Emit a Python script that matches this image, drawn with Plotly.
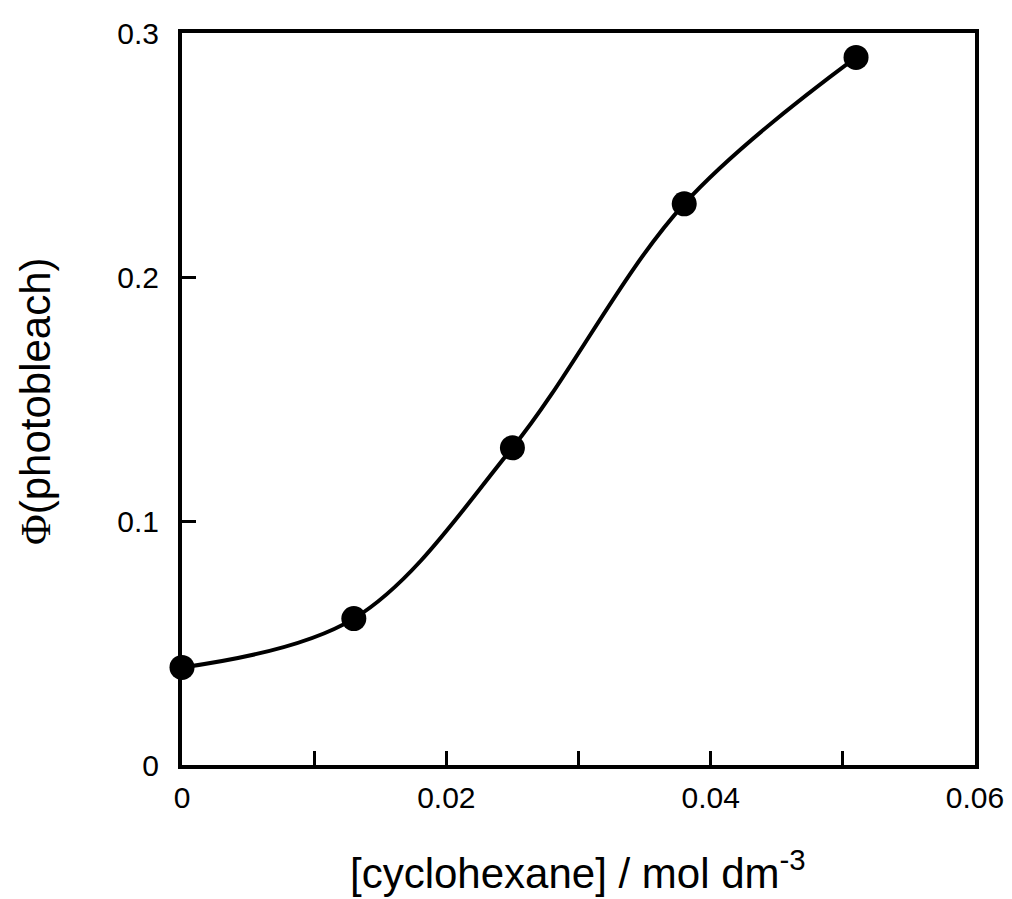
import plotly.graph_objects as go

conc = [0.0, 0.013, 0.025, 0.038, 0.051]
phi = [0.04, 0.06, 0.13, 0.23, 0.29]

x_tickvals = [0, 0.02, 0.04, 0.06]
x_ticktext = ["0", "0.02", "0.04", "0.06"]
y_tickvals = [0, 0.1, 0.2, 0.3]
y_ticktext = ["0", "0.1", "0.2", "0.3"]

x_title = "[cyclohexane] / mol dm<sup>-3</sup>"
y_title = "<span style='font-family:Liberation Serif'>Φ</span>(photobleach)"

W, H = 1012, 899
L, R, T, B = 182, 37, 33, 134

fig = go.Figure()
fig.add_trace(go.Scatter(
    x=conc, y=phi, mode="lines+markers",
    line=dict(color="black", width=4, shape="spline", smoothing=1.0),
    marker=dict(color="black", size=25),
    cliponaxis=False, showlegend=False,
))

ph = H - T - B
pw = W - L - R

fig.update_layout(
    width=W, height=H,
    margin=dict(l=L, r=R, t=T, b=B),
    plot_bgcolor="white", paper_bgcolor="white",
    xaxis=dict(
        range=[0, 0.06], tickvals=x_tickvals, ticktext=x_ticktext,
        ticks="inside", ticklen=14, tickwidth=3, tickcolor="black",
        minor=dict(dtick=0.01, tick0=0, ticks="inside", ticklen=14, tickwidth=3,
                   tickcolor="black", showgrid=False),
        showline=True, linecolor="black", linewidth=4, mirror=True,
        showgrid=False, zeroline=False, automargin=False,
        tickfont=dict(family="Liberation Sans", size=30, color="black"),
        ticklabelstandoff=3,
    ),
    yaxis=dict(
        range=[0, 0.3], tickvals=y_tickvals, ticktext=y_ticktext,
        ticks="inside", ticklen=14, tickwidth=3, tickcolor="black",
        showline=True, linecolor="black", linewidth=4, mirror=True,
        showgrid=False, zeroline=False, automargin=False,
        tickfont=dict(family="Liberation Sans", size=30, color="black"),
        ticklabelstandoff=13,
    ),
    annotations=[
        dict(text=x_title, xref="paper", yref="paper",
             x=(578 - L) / pw, y=-(870 - (H - B)) / ph,
             xanchor="center", yanchor="middle", showarrow=False,
             font=dict(family="Liberation Sans", size=42, color="black")),
        dict(text=y_title, xref="paper", yref="paper",
             x=-(L - 35) / pw, y=((H - B) - 401) / ph,
             xanchor="center", yanchor="middle", showarrow=False, textangle=-90,
             font=dict(family="Liberation Sans", size=42, color="black")),
    ],
)

fig.write_html("out.html")
